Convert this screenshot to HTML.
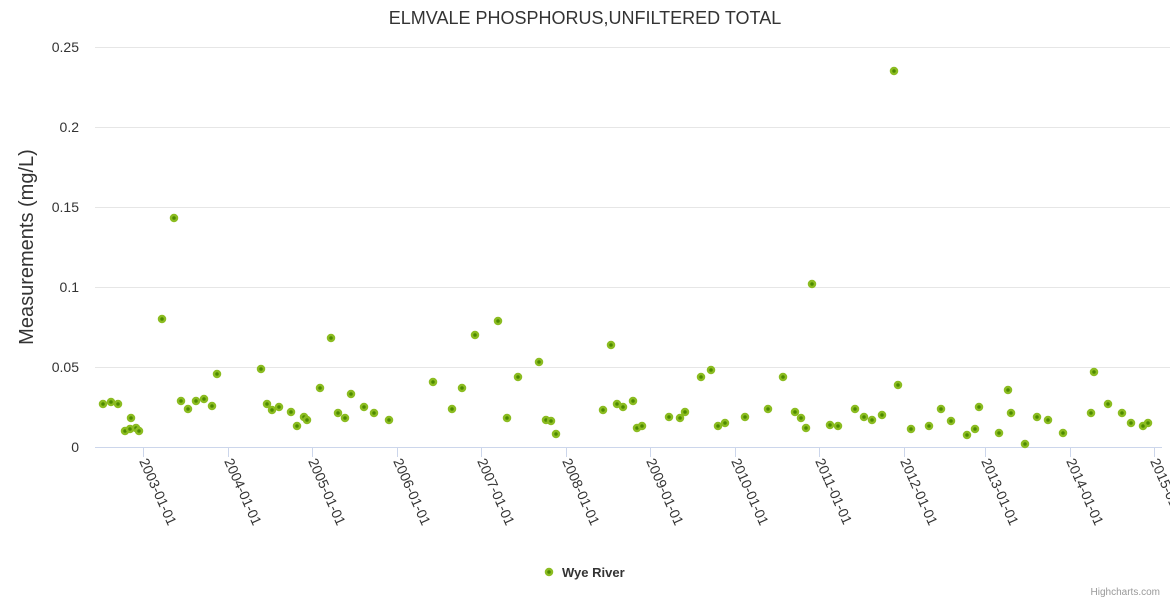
<!DOCTYPE html>
<html><head><meta charset="utf-8"><style>
html,body{margin:0;padding:0;background:#fff;}
svg{display:block;font-family:"Liberation Sans",sans-serif;}
</style></head><body>
<svg width="1170" height="600" viewBox="0 0 1170 600" xmlns="http://www.w3.org/2000/svg">
<rect width="1170" height="600" fill="#fff"/>
<text x="585" y="24" text-anchor="middle" font-size="18" fill="#333">ELMVALE PHOSPHORUS,UNFILTERED TOTAL</text>
<g stroke="#e6e6e6" stroke-width="1">
<line x1="95" y1="47.5" x2="1170" y2="47.5"/>
<line x1="95" y1="127.5" x2="1170" y2="127.5"/>
<line x1="95" y1="207.5" x2="1170" y2="207.5"/>
<line x1="95" y1="287.5" x2="1170" y2="287.5"/>
<line x1="95" y1="367.5" x2="1170" y2="367.5"/>
</g>
<line x1="95" y1="447.5" x2="1162" y2="447.5" stroke="#ccd6eb"/>
<g stroke="#ccd6eb">
<line x1="143.5" y1="447" x2="143.5" y2="457"/><line x1="228.5" y1="447" x2="228.5" y2="457"/><line x1="312.5" y1="447" x2="312.5" y2="457"/><line x1="397.5" y1="447" x2="397.5" y2="457"/><line x1="481.5" y1="447" x2="481.5" y2="457"/><line x1="566.5" y1="447" x2="566.5" y2="457"/><line x1="650.5" y1="447" x2="650.5" y2="457"/><line x1="735.5" y1="447" x2="735.5" y2="457"/><line x1="819.5" y1="447" x2="819.5" y2="457"/><line x1="904.5" y1="447" x2="904.5" y2="457"/><line x1="985.5" y1="447" x2="985.5" y2="457"/><line x1="1070.5" y1="447" x2="1070.5" y2="457"/><line x1="1154.5" y1="447" x2="1154.5" y2="457"/>
</g>
<g font-size="14" fill="#333" text-anchor="end">
<text x="79" y="52">0.25</text><text x="79" y="132">0.2</text><text x="79" y="212">0.15</text><text x="79" y="292">0.1</text><text x="79" y="372">0.05</text><text x="79" y="452">0</text>
</g>
<text transform="translate(33,247) rotate(-90)" text-anchor="middle" font-size="20" fill="#333">Measurements (mg/L)</text>
<g font-size="14" fill="#333">
<text transform="translate(139,461) rotate(66)">2003-01-01</text>
<text transform="translate(224,461) rotate(66)">2004-01-01</text>
<text transform="translate(308,461) rotate(66)">2005-01-01</text>
<text transform="translate(393,461) rotate(66)">2006-01-01</text>
<text transform="translate(477,461) rotate(66)">2007-01-01</text>
<text transform="translate(562,461) rotate(66)">2008-01-01</text>
<text transform="translate(646,461) rotate(66)">2009-01-01</text>
<text transform="translate(731,461) rotate(66)">2010-01-01</text>
<text transform="translate(815,461) rotate(66)">2011-01-01</text>
<text transform="translate(900,461) rotate(66)">2012-01-01</text>
<text transform="translate(981,461) rotate(66)">2013-01-01</text>
<text transform="translate(1066,461) rotate(66)">2014-01-01</text>
<text transform="translate(1150,461) rotate(66)">2015-01-01</text>
</g>
<g fill="#4d8a00" stroke="#8bbc21" stroke-width="2.5">
<circle cx="103" cy="404" r="3"/><circle cx="111" cy="402" r="3"/><circle cx="118" cy="404" r="3"/><circle cx="125" cy="431" r="3"/><circle cx="130" cy="429" r="3"/><circle cx="131" cy="418" r="3"/><circle cx="136" cy="428" r="3"/><circle cx="139" cy="431" r="3"/><circle cx="162" cy="319" r="3"/><circle cx="174" cy="218" r="3"/><circle cx="181" cy="401" r="3"/><circle cx="188" cy="409" r="3"/><circle cx="196" cy="401" r="3"/><circle cx="204" cy="399" r="3"/><circle cx="212" cy="406" r="3"/><circle cx="217" cy="374" r="3"/><circle cx="261" cy="369" r="3"/><circle cx="267" cy="404" r="3"/><circle cx="272" cy="410" r="3"/><circle cx="279" cy="407" r="3"/><circle cx="291" cy="412" r="3"/><circle cx="297" cy="426" r="3"/><circle cx="304" cy="417" r="3"/><circle cx="307" cy="420" r="3"/><circle cx="320" cy="388" r="3"/><circle cx="331" cy="338" r="3"/><circle cx="338" cy="413" r="3"/><circle cx="345" cy="418" r="3"/><circle cx="351" cy="394" r="3"/><circle cx="364" cy="407" r="3"/><circle cx="374" cy="413" r="3"/><circle cx="389" cy="420" r="3"/><circle cx="433" cy="382" r="3"/><circle cx="452" cy="409" r="3"/><circle cx="462" cy="388" r="3"/><circle cx="475" cy="335" r="3"/><circle cx="498" cy="321" r="3"/><circle cx="507" cy="418" r="3"/><circle cx="518" cy="377" r="3"/><circle cx="539" cy="362" r="3"/><circle cx="546" cy="420" r="3"/><circle cx="551" cy="421" r="3"/><circle cx="556" cy="434" r="3"/><circle cx="603" cy="410" r="3"/><circle cx="611" cy="345" r="3"/><circle cx="617" cy="404" r="3"/><circle cx="623" cy="407" r="3"/><circle cx="633" cy="401" r="3"/><circle cx="637" cy="428" r="3"/><circle cx="642" cy="426" r="3"/><circle cx="669" cy="417" r="3"/><circle cx="680" cy="418" r="3"/><circle cx="685" cy="412" r="3"/><circle cx="701" cy="377" r="3"/><circle cx="711" cy="370" r="3"/><circle cx="718" cy="426" r="3"/><circle cx="725" cy="423" r="3"/><circle cx="745" cy="417" r="3"/><circle cx="768" cy="409" r="3"/><circle cx="783" cy="377" r="3"/><circle cx="795" cy="412" r="3"/><circle cx="801" cy="418" r="3"/><circle cx="806" cy="428" r="3"/><circle cx="812" cy="284" r="3"/><circle cx="830" cy="425" r="3"/><circle cx="838" cy="426" r="3"/><circle cx="855" cy="409" r="3"/><circle cx="864" cy="417" r="3"/><circle cx="872" cy="420" r="3"/><circle cx="882" cy="415" r="3"/><circle cx="894" cy="71" r="3"/><circle cx="898" cy="385" r="3"/><circle cx="911" cy="429" r="3"/><circle cx="929" cy="426" r="3"/><circle cx="941" cy="409" r="3"/><circle cx="951" cy="421" r="3"/><circle cx="967" cy="435" r="3"/><circle cx="975" cy="429" r="3"/><circle cx="979" cy="407" r="3"/><circle cx="999" cy="433" r="3"/><circle cx="1008" cy="390" r="3"/><circle cx="1011" cy="413" r="3"/><circle cx="1025" cy="444" r="3"/><circle cx="1037" cy="417" r="3"/><circle cx="1048" cy="420" r="3"/><circle cx="1063" cy="433" r="3"/><circle cx="1091" cy="413" r="3"/><circle cx="1094" cy="372" r="3"/><circle cx="1108" cy="404" r="3"/><circle cx="1122" cy="413" r="3"/><circle cx="1131" cy="423" r="3"/><circle cx="1143" cy="426" r="3"/><circle cx="1148" cy="423" r="3"/>
<circle cx="549" cy="572" r="3"/>
</g>
<text x="562" y="577" font-size="13" font-weight="bold" fill="#333">Wye River</text>
<text x="1160" y="595" text-anchor="end" font-size="10" fill="#999">Highcharts.com</text>
</svg>
</body></html>
